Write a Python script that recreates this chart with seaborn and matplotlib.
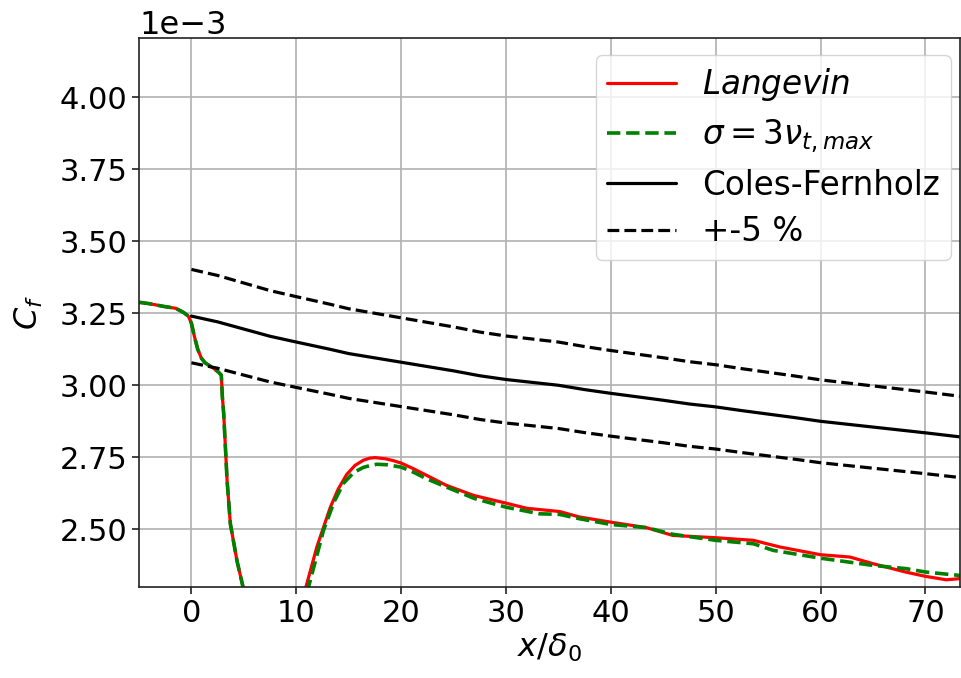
import numpy as np
import pandas as pd
import matplotlib
matplotlib.use("Agg")
import matplotlib.pyplot as plt
from matplotlib.ticker import MultipleLocator
import seaborn as sns

# ---- data (Cf values in units of 1e-3) ----
lang_x = [-5.0, -4.0, -2.7, -1.5, -0.76, -0.3, 0.0, 0.3, 0.6, 0.95, 1.3, 2.1, 2.6, 2.85, 2.95, 3.08, 3.4, 3.71, 4.35, 4.92,
          5.5, 7.5, 9.5, 10.3, 10.92, 11.97, 13.24, 14.0, 14.8, 15.6, 16.4, 17.0, 17.5, 18.5, 19.3, 20.0, 21.2, 22.4, 24.3, 26.9, 30.0, 32.0, 35.1,
          37.0, 40.0, 43.4, 45.9, 50.0, 53.6, 56.1, 60.0, 62.8, 65.0, 68.1, 70.0, 72.0, 73.3]
lang_y = [3.288, 3.283, 3.274, 3.267, 3.253, 3.240, 3.215, 3.167, 3.125, 3.094, 3.078, 3.059, 3.045, 3.035, 2.96, 2.90, 2.67, 2.52, 2.39, 2.30,
          2.21, 2.00, 2.10, 2.22, 2.30, 2.44, 2.576, 2.64, 2.69, 2.722, 2.74, 2.747, 2.749, 2.745, 2.738, 2.73, 2.71, 2.688, 2.653, 2.618, 2.591, 2.573, 2.562,
          2.543, 2.525, 2.506, 2.479, 2.471, 2.462, 2.439, 2.412, 2.404, 2.381, 2.352, 2.337, 2.325, 2.329]

sig_x = [-5.0, -4.0, -2.7, -1.5, -0.76, -0.3, 0.0, 0.3, 0.6, 0.95, 1.3, 2.1, 2.6, 2.85, 2.95, 3.08, 3.4, 3.71, 4.35, 4.92,
         5.5, 7.5, 9.5, 10.5, 11.17, 12.6, 13.6, 14.5, 15.5, 16.4, 17.0, 17.7, 18.7, 20.0, 21.2, 22.4, 24.3, 27.0, 30.0, 33.2, 35.1,
         37.0, 40.0, 43.4, 45.9, 50.0, 53.6, 55.5, 60.0, 65.0, 68.1, 70.0, 73.3]
sig_y = [3.288, 3.283, 3.274, 3.267, 3.253, 3.240, 3.215, 3.167, 3.125, 3.094, 3.078, 3.059, 3.045, 3.035, 2.96, 2.90, 2.67, 2.52, 2.39, 2.30,
         2.21, 2.00, 2.10, 2.21, 2.30, 2.497, 2.595, 2.66, 2.698, 2.715, 2.721, 2.726, 2.724, 2.716, 2.698, 2.676, 2.647, 2.607, 2.577, 2.554, 2.552,
         2.537, 2.517, 2.506, 2.483, 2.462, 2.45, 2.427, 2.40, 2.375, 2.364, 2.352, 2.340]

cf_x = [0.0, 2.5, 5.0, 7.5, 10.0, 13.2, 15.0, 17.5, 20.0, 22.5, 25.0, 27.5, 30.0, 32.5, 35.0, 37.5, 40.0, 42.5, 45.0,
        47.5, 50.0, 52.5, 55.0, 57.5, 60.0, 62.5, 65.0, 67.5, 70.0, 73.5]
cf_y = [3.24, 3.22, 3.195, 3.17, 3.15, 3.125, 3.11, 3.095, 3.08, 3.065, 3.05, 3.033, 3.02, 3.01, 3.0, 2.985, 2.972, 2.96, 2.948,
        2.935, 2.925, 2.912, 2.9, 2.888, 2.875, 2.865, 2.855, 2.845, 2.835, 2.82]

x_ticks = [0, 10, 20, 30, 40, 50, 60, 70]

# ---- styling ----
sns.set_theme(style="ticks")
FS_TICK = 22
FS_LAB = 23
FS_LEG = 23.5
plt.rcParams.update({
    "font.family": ["DejaVu Sans"],
    "font.size": FS_TICK,
    "text.color": "black",
    "axes.labelcolor": "black",
    "axes.edgecolor": "#222222",
    "axes.linewidth": 1.2,
    "xtick.color": "#222222",
    "ytick.color": "#222222",
    "xtick.labelcolor": "black",
    "ytick.labelcolor": "black",
    "xtick.labelsize": FS_TICK,
    "ytick.labelsize": FS_TICK,
    "axes.labelsize": FS_LAB,
    "legend.fontsize": FS_LEG,
    "grid.color": "#b0b0b0",
    "grid.linewidth": 1.2,
    "mathtext.fontset": "dejavusans",
})

fig = plt.figure(figsize=(9.61, 6.78), dpi=100)
ax = fig.add_axes([139 / 961, 1 - 587 / 678, (960 - 139) / 961, (587 - 38) / 678])

scale = 1e-3
df_l = pd.DataFrame({"x": lang_x, "y": np.array(lang_y) * scale})
df_s = pd.DataFrame({"x": sig_x, "y": np.array(sig_y) * scale})
df_c = pd.DataFrame({"x": cf_x, "y": np.array(cf_y) * scale})
df_up = pd.DataFrame({"x": cf_x, "y": np.array(cf_y) * 1.05 * scale})
df_lo = pd.DataFrame({"x": cf_x, "y": np.array(cf_y) * 0.95 * scale})

sns.lineplot(data=df_l, x="x", y="y", ax=ax, color="red", lw=2.3, sort=False, estimator=None,
             label=r"$Langevin$")
sns.lineplot(data=df_s, x="x", y="y", ax=ax, color="green", lw=2.6, ls="--", sort=False, estimator=None,
             label=r"$\sigma = 3\nu_{t,max}$")
sns.lineplot(data=df_c, x="x", y="y", ax=ax, color="black", lw=2.3, sort=False, estimator=None,
             label="Coles-Fernholz")
sns.lineplot(data=df_up, x="x", y="y", ax=ax, color="black", lw=2.3, ls="--", sort=False, estimator=None,
             label="+-5 %")
sns.lineplot(data=df_lo, x="x", y="y", ax=ax, color="black", lw=2.3, ls="--", sort=False, estimator=None)

ax.set_xlim(-5.0, 73.3)
ax.set_ylim(2.30e-3, 4.205e-3)
ax.set_xticks(x_ticks)
ax.yaxis.set_major_locator(MultipleLocator(0.25e-3))
ax.ticklabel_format(style="sci", axis="y", scilimits=(0, 0))
ax.grid(True)
ax.set_xlabel(r"$x/\delta_0$", labelpad=3)
ax.set_ylabel(r"$C_f$", labelpad=10)
ax.tick_params(direction="out", length=5, width=1.2)
ax.yaxis.get_offset_text().set_fontsize(FS_LAB)

ax.legend(loc="upper right", bbox_to_anchor=(951 / 961, 1 - 55 / 678), bbox_transform=fig.transFigure,
          borderaxespad=0.0, handlelength=2.1, borderpad=0.35, labelspacing=0.42, framealpha=0.8,
          edgecolor="#cccccc", fancybox=True)

fig.savefig("out.png", dpi=100)
